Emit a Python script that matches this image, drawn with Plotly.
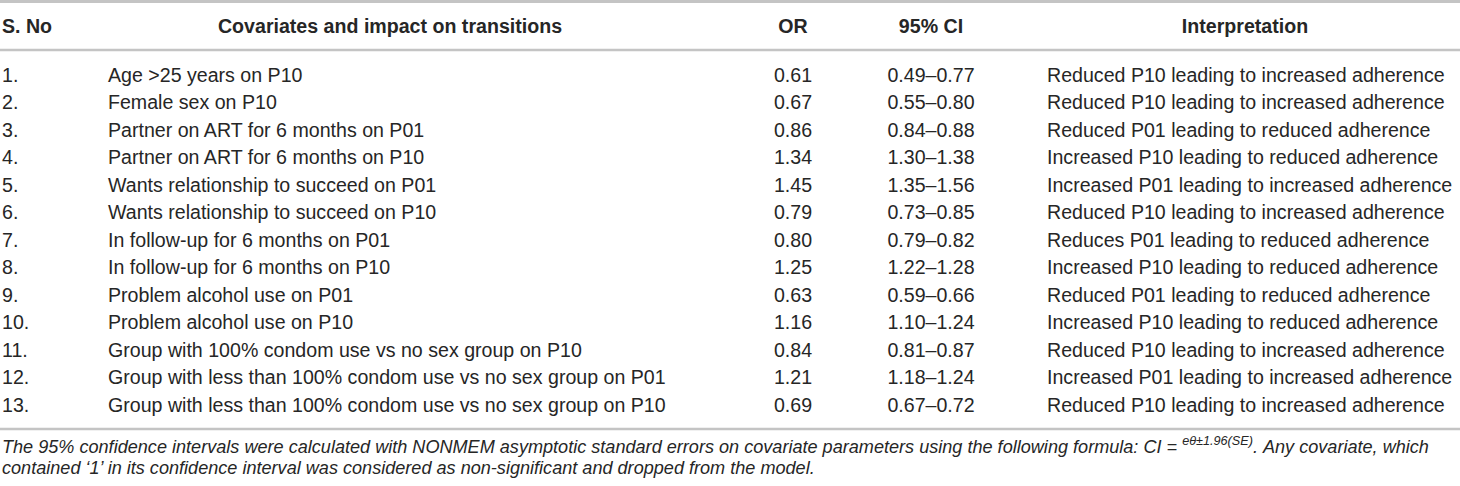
import plotly.graph_objects as go

# table content
sno = ["1.", "2.", "3.", "4.", "5.", "6.", "7.", "8.", "9.", "10.", "11.", "12.", "13."]
covariates = [
    "Age >25 years on P10",
    "Female sex on P10",
    "Partner on ART for 6 months on P01",
    "Partner on ART for 6 months on P10",
    "Wants relationship to succeed on P01",
    "Wants relationship to succeed on P10",
    "In follow-up for 6 months on P01",
    "In follow-up for 6 months on P10",
    "Problem alcohol use on P01",
    "Problem alcohol use on P10",
    "Group with 100% condom use vs no sex group on P10",
    "Group with less than 100% condom use vs no sex group on P01",
    "Group with less than 100% condom use vs no sex group on P10",
]
odds_ratio = [0.61, 0.67, 0.86, 1.34, 1.45, 0.79, 0.80, 1.25, 0.63, 1.16, 0.84, 1.21, 0.69]
ci_low = [0.49, 0.55, 0.84, 1.30, 1.35, 0.73, 0.79, 1.22, 0.59, 1.10, 0.81, 1.18, 0.67]
ci_high = [0.77, 0.80, 0.88, 1.38, 1.56, 0.85, 0.82, 1.28, 0.66, 1.24, 0.87, 1.24, 0.72]
interpretation = [
    "Reduced P10 leading to increased adherence",
    "Reduced P10 leading to increased adherence",
    "Reduced P01 leading to reduced adherence",
    "Increased P10 leading to reduced adherence",
    "Increased P01 leading to increased adherence",
    "Reduced P10 leading to increased adherence",
    "Reduces P01 leading to reduced adherence",
    "Increased P10 leading to reduced adherence",
    "Reduced P01 leading to reduced adherence",
    "Increased P10 leading to reduced adherence",
    "Reduced P10 leading to increased adherence",
    "Increased P01 leading to increased adherence",
    "Reduced P10 leading to increased adherence",
]
headers = ["S. No", "Covariates and impact on transitions", "OR", "95% CI", "Interpretation"]
footnote = [
    "The 95% confidence intervals were calculated with NONMEM asymptotic standard errors on covariate "
    "parameters using the following formula: CI = <sup>eθ±1.96(SE)</sup>. Any covariate, which",
    "contained \u20181\u2019 in its confidence interval was considered as non-significant and dropped from the model.",
]

W, H = 1460, 486
FONT = "Liberation Sans, Arial, sans-serif"
INK = "#262626"
RULE = "#c4c4c4"
SIZE = 19.6

ROW0, STEP = 77, 27.5
row_y = [ROW0 + i * STEP for i in range(len(sno))]
col_x = [2, 108, 793, 931, 1047]
col_pos = ["middle right", "middle right", "middle center", "middle center", "middle right"]
head_x = [2, 390, 793, 931, 1245]
head_pos = ["middle right", "middle center", "middle center", "middle center", "middle center"]

columns = [
    sno,
    covariates,
    [f"{v:.2f}" for v in odds_ratio],
    [f"{a:.2f}\u2013{b:.2f}" for a, b in zip(ci_low, ci_high)],
    interpretation,
]

fig = go.Figure()
for x, pos, col in zip(col_x, col_pos, columns):
    fig.add_trace(go.Scatter(
        x=[x] * len(col), y=row_y, text=col, mode="text",
        textposition=pos, hoverinfo="skip",
        textfont=dict(family=FONT, size=SIZE, color=INK),
    ))

for x, pos, h in zip(head_x, head_pos, headers):
    fig.add_trace(go.Scatter(
        x=[x], y=[28], text=[f"<b>{h}</b>"], mode="text",
        textposition=pos, hoverinfo="skip",
        textfont=dict(family=FONT, size=SIZE, color=INK),
    ))

for i, line in enumerate(footnote):
    fig.add_annotation(
        x=0, y=445 + i * 23, xref="x", yref="y", text=f"<i>{line}</i>",
        showarrow=False, xanchor="left", yanchor="middle",
        font=dict(family=FONT, size=18.1, color=INK),
    )

# horizontal rules
for y, w in [(1.5, 3), (50, 2.5), (429, 2.5)]:
    fig.add_shape(type="line", xref="x", yref="y", x0=0, x1=W, y0=y, y1=y,
                  line=dict(color=RULE, width=w))

fig.update_layout(
    width=W, height=H,
    margin=dict(l=0, r=0, t=0, b=0),
    paper_bgcolor="white", plot_bgcolor="white",
    showlegend=False,
    xaxis=dict(range=[0, W], visible=False, fixedrange=True),
    yaxis=dict(range=[H, 0], visible=False, fixedrange=True),
)

fig.write_html("out.html", config={"displayModeBar": False},
               post_script="document.body.style.margin='0';")
